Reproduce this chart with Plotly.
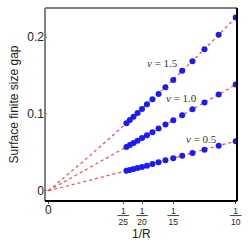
import numpy as np
import plotly.graph_objects as go

R = [10, 11, 12, 13, 14, 15, 16, 17, 18, 19, 20, 21, 22, 23, 24]
gap_15 = [0.2257, 0.2030, 0.1843, 0.1687, 0.1561, 0.1443, 0.1348, 0.1261,
          0.1191, 0.1126, 0.1065, 0.1013, 0.0965, 0.0922, 0.0878]
gap_10 = [0.1383, 0.1252, 0.1148, 0.1061, 0.0983, 0.0917, 0.0861, 0.0809,
          0.0761, 0.0722, 0.0687, 0.0652, 0.0622, 0.0596, 0.0570]
gap_05 = [0.0643, 0.0587, 0.0535, 0.0491, 0.0457, 0.0422, 0.0396, 0.0370,
          0.0348, 0.0326, 0.0309, 0.0296, 0.0283, 0.0270, 0.0261]
labels = ["1.5", "1.0", "0.5"]
label_x = [0.0608, 0.0712, 0.0817]
label_y = [0.1665, 0.1209, 0.0674]
xtick_vals = [0, 1/25, 1/20, 1/15, 1/10]
xtick_den = ["25", "20", "15", "10"]
ytick_vals = [0, 0.1, 0.2]
ytick_text = ["0", "0.1", "0.2"]

x = 1 / np.array(R, dtype=float)
xf = np.linspace(0, 0.1, 200)

fig = go.Figure()
for ys in [gap_15, gap_10, gap_05]:
    ya = np.array(ys)
    A = np.vstack([x, x**2]).T
    coef, *_ = np.linalg.lstsq(A, ya, rcond=None)
    yf = coef[0] * xf + coef[1] * xf**2
    fig.add_trace(go.Scatter(x=xf, y=yf, mode="lines",
                             line=dict(color="rgba(255,40,40,0.85)", width=1.2, dash="dot"),
                             hoverinfo="skip", showlegend=False))
for ys in [gap_15, gap_10, gap_05]:
    fig.add_trace(go.Scatter(x=x, y=ys, mode="markers",
                             marker=dict(color="#1a1aff", size=6, line=dict(width=0)),
                             showlegend=False))

for t, lx, ly in zip(labels, label_x, label_y):
    fig.add_annotation(x=lx, y=ly, text="<i>\u03bd</i> = " + t,
                       showarrow=False, font=dict(family="Liberation Serif", size=11, color="#333"))

fig.add_annotation(x=0.5, y=-0.17, xref="paper", yref="paper", text="1/R",
                   showarrow=False, yanchor="middle",
                   font=dict(family="Liberation Sans", size=12, color="#222"))

xtick_text = ["<span style='font-size:12px'>0</span>"] + [
    "<u>\u2009\u20091\u2009\u2009</u><br>" + d for d in xtick_den]

fig.update_layout(
    width=249, height=249,
    margin=dict(l=45, r=12, t=8, b=48),
    plot_bgcolor="white", paper_bgcolor="white",
    font=dict(family="Liberation Sans", size=12, color="#222"),
    xaxis=dict(range=[-0.0018, 0.1007], tickvals=xtick_vals, ticktext=xtick_text,
               tickfont=dict(size=8.5),
               showgrid=False, zeroline=False, ticks="outside", ticklen=2,
               tickcolor="#555", automargin=False),
    yaxis=dict(range=[-0.0134, 0.238], tickvals=ytick_vals, ticktext=ytick_text,
               showgrid=False, zeroline=False, ticks="inside", ticklen=2, tickcolor="#777",
               automargin=False,
               title=dict(text="Surface finite size gap", font=dict(size=12), standoff=6)),
    shapes=[
        dict(type="line", xref="paper", yref="paper", x0=0, x1=0, y0=0, y1=1,
             line=dict(color="#808080", width=2)),
        dict(type="line", xref="paper", yref="paper", x0=0, x1=1, y0=1, y1=1,
             line=dict(color="#808080", width=2)),
        dict(type="line", xref="paper", yref="paper", x0=0, x1=1, y0=0, y1=0,
             line=dict(color="black", width=2)),
        dict(type="line", xref="paper", yref="paper", x0=1, x1=1, y0=0, y1=1,
             line=dict(color="black", width=2)),
    ],
)
fig.write_html("out.html", config={"displayModeBar": False},
               post_script="document.body.style.margin='0';document.body.style.overflow='hidden';")
